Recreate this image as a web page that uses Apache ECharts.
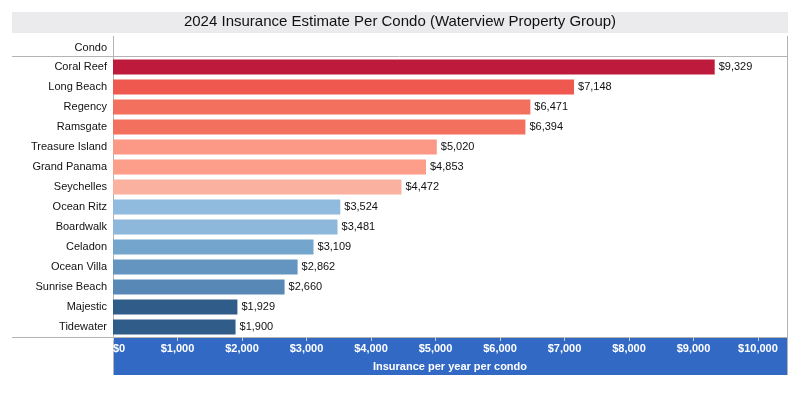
<!DOCTYPE html>
<html>
<head>
<meta charset="utf-8">
<title>2024 Insurance Estimate Per Condo</title>
<script src="https://cdn.jsdelivr.net/npm/echarts@6/dist/echarts.min.js"></script>
<style>
    html, body { margin: 0; padding: 0; background: #fff; }
    #main { width: 800px; height: 400px; }
</style>
</head>
<body>
<div id="main"></div>
<script>
// data
var condos = ['Coral Reef', 'Long Beach', 'Regency', 'Ramsgate', 'Treasure Island', 'Grand Panama',
    'Seychelles', 'Ocean Ritz', 'Boardwalk', 'Celadon', 'Ocean Villa', 'Sunrise Beach', 'Majestic', 'Tidewater'];
var estimates = [9329, 7148, 6471, 6394, 5020, 4853, 4472, 3524, 3481, 3109, 2862, 2660, 1929, 1900];
var xTicks = [0, 1000, 2000, 3000, 4000, 5000, 6000, 7000, 8000, 9000, 10000];

// bar colours, one per condo
var barColors = ['#be1a3c', '#ef584e', '#f3705f', '#f3705f', '#fc9886', '#fd9e8a', '#fbb1a0',
    '#90bbdf', '#8db8dc', '#73a5cd', '#6495c0', '#5889b6', '#305c8a', '#305c8a'];

var font = '"Liberation Sans", Arial, sans-serif';
var lineColor = '#b4b4b4';
var textColor = '#111';

function money(v){
    return '$' + Number(v).toLocaleString('en-US');
}

var myChart = echarts.init(document.getElementById('main'));

var barData = [];
for (let i = 0; i < estimates.length; i++) {
    barData.push({ value: estimates[i], itemStyle: { color: barColors[i] } });
}

var option = {
    animation: false,
    textStyle: { fontFamily: font },
    grid: { left: 113, right: 13, top: 57, bottom: 63, containLabel: false },
    graphic: [
        // title band
        { type: 'rect', z: -1, shape: { x: 12, y: 12, width: 776, height: 21 }, style: { fill: '#ebebee' } },
        { type: 'text', x: 400, y: 22, style: { text: '2024 Insurance Estimate Per Condo (Waterview Property Group)',
            font: '15px ' + font, fill: textColor, align: 'center', verticalAlign: 'middle' } },
        // axis band
        { type: 'rect', z: -1, shape: { x: 113, y: 337, width: 674, height: 38 }, style: { fill: '#3169c5' } },
        // frame lines
        { type: 'line', shape: { x1: 12, y1: 56.5, x2: 787, y2: 56.5 }, style: { stroke: lineColor, lineWidth: 1 } },
        { type: 'line', shape: { x1: 12, y1: 337.5, x2: 113, y2: 337.5 }, style: { stroke: lineColor, lineWidth: 1 } },
        { type: 'line', shape: { x1: 113.5, y1: 36, x2: 113.5, y2: 375 }, style: { stroke: lineColor, lineWidth: 1 } },
        { type: 'line', shape: { x1: 787.5, y1: 36, x2: 787.5, y2: 375 }, style: { stroke: lineColor, lineWidth: 1 } },
        // header
        { type: 'text', x: 107, y: 48, style: { text: 'Condo', font: '11px ' + font, fill: textColor,
            align: 'right', verticalAlign: 'middle' } }
    ],
    xAxis: {
        type: 'value',
        min: 0,
        max: 10450,
        z: 5,
        splitLine: { show: false },
        axisLine: { show: true, lineStyle: { color: lineColor } },
        axisTick: { show: true, length: 4, lineStyle: { color: '#c8cfdc' }, customValues: xTicks },
        axisLabel: {
            customValues: xTicks,
            formatter: money,
            color: '#fff',
            fontWeight: 'bold',
            fontSize: 11,
            margin: 6,
            alignMinLabel: 'left'
        },
        name: 'Insurance per year per condo',
        nameLocation: 'middle',
        nameGap: 24,
        nameTextStyle: { color: '#fff', fontWeight: 'bold', fontSize: 11 }
    },
    yAxis: {
        type: 'category',
        inverse: true,
        data: condos,
        axisLine: { show: false },
        axisTick: { show: false },
        axisLabel: { color: textColor, fontSize: 11, margin: 6 }
    },
    series: [
        {
            type: 'bar',
            data: barData,
            barWidth: 15,
            label: {
                show: true,
                position: 'right',
                distance: 4,
                color: textColor,
                fontSize: 11,
                formatter: function(p){ return money(p.value); }
            }
        }
    ]
};
myChart.setOption(option);
</script>
</body>
</html>
